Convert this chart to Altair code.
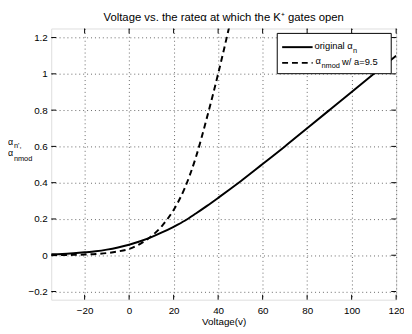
import altair as alt
import pandas as pd

# ---- data ----
v_orig = [-35, -30, -25, -20, -15, -10, -5, 0, 5, 10, 15, 20, 25, 30, 35, 40,
          45, 50, 60, 70, 80, 90, 100, 110, 120]
a_orig = [0.005, 0.007, 0.011, 0.016, 0.022, 0.031, 0.043, 0.058, 0.077, 0.10,
          0.127, 0.157, 0.19, 0.23, 0.272, 0.316, 0.361, 0.407, 0.503, 0.60,
          0.70, 0.80, 0.90, 1.00, 1.10]
v_mod = [-35, -30, -25, -20, -15, -10, -5, 0, 5, 10, 15, 20, 25, 30, 35, 40, 45, 50]
a_mod = [0.0005, 0.001, 0.002, 0.004, 0.007, 0.012, 0.021, 0.035, 0.063, 0.105,
         0.165, 0.25, 0.37, 0.54, 0.76, 1.00, 1.26, 1.53]
x_ticks = [-20, 0, 20, 40, 60, 80, 100, 120]
y_ticks = [-0.2, 0, 0.2, 0.4, 0.6, 0.8, 1.0, 1.2]

W, H = 351, 276
FONT = "Liberation Sans"

xs = alt.Scale(domain=[-35, 120], nice=False, zero=False)
ys = alt.Scale(domain=[-0.245, 1.25], nice=False, zero=False)

df_o = pd.DataFrame({"v": v_orig, "a": a_orig})
df_m = pd.DataFrame({"v": v_mod, "a": a_mod})
df_xt = pd.DataFrame({"t": x_ticks})
df_yt = pd.DataFrame({"t": y_ticks})

xaxis = alt.Axis(values=x_ticks, grid=True, gridDash=[1, 3], gridColor="#666",
                 ticks=False, domain=False, labelFont=FONT, labelFontSize=10,
                 labelColor="black", labelPadding=6, labelOverlap=False,
                 labelFlush=False, title="Voltage(v)",
                 titleFont=FONT, titleFontSize=10, titleFontWeight="normal",
                 titleColor="black", titlePadding=1)
yaxis = alt.Axis(values=y_ticks, grid=True, gridDash=[1, 3], gridColor="#666",
                 ticks=False, domain=False, labelFont=FONT, labelFontSize=10,
                 labelColor="black", labelPadding=4, labelOverlap=False,
                 labelFlush=False, title=None,
                 labelExpr="datum.value == 0 ? '0' : (datum.value == 1 ? '1' : format(datum.value, '.1f'))")

def X(f):
    return alt.X(f, scale=xs, axis=xaxis)

def Y(f):
    return alt.Y(f, scale=ys, axis=yaxis)

line_o = alt.Chart(df_o).mark_line(color="black", strokeWidth=2, clip=True,
                                   interpolate="monotone").encode(
    x=X("v:Q"), y=Y("a:Q"))
line_m = alt.Chart(df_m).mark_line(color="black", strokeWidth=2, strokeDash=[6, 4],
                                   clip=True, interpolate="monotone").encode(
    x=X("v:Q"), y=Y("a:Q"))

# inward ticks
xt_b = alt.Chart(df_xt).mark_rule(color="black", strokeWidth=1).encode(
    x=X("t:Q"), y=alt.value(H), y2=alt.value(H - 5))
xt_t = alt.Chart(df_xt).mark_rule(color="black", strokeWidth=1).encode(
    x=X("t:Q"), y=alt.value(0), y2=alt.value(5))
yt_l = alt.Chart(df_yt).mark_rule(color="black", strokeWidth=1).encode(
    y=Y("t:Q"), x=alt.value(0), x2=alt.value(5))
yt_r = alt.Chart(df_yt).mark_rule(color="black", strokeWidth=1).encode(
    y=Y("t:Q"), x=alt.value(W - 5), x2=alt.value(W))

one = pd.DataFrame({"k": [0]})

def txt(s, x, y, size=10, align="left"):
    return alt.Chart(one).mark_text(text=s, font=FONT, fontSize=size, align=align,
                                    baseline="middle", color="black").encode(
        x=alt.value(x), y=alt.value(y))

# legend box
leg_box = alt.Chart(one).mark_rect(fill="white", stroke="black", strokeWidth=1).encode(
    x=alt.value(230), x2=alt.value(346), y=alt.value(5), y2=alt.value(46))
leg_l1 = alt.Chart(one).mark_rule(color="black", strokeWidth=2).encode(
    x=alt.value(235), x2=alt.value(266), y=alt.value(19))
leg_l2 = alt.Chart(one).mark_rule(color="black", strokeWidth=2, strokeDash=[6, 4]).encode(
    x=alt.value(235), x2=alt.value(266), y=alt.value(35))
leg_t1 = txt("original α", 268, 18, 9.5)
leg_s1 = txt("n", 307, 23, 7.5)
leg_t2 = txt("α", 269, 33, 9.5)
leg_s2 = txt("nmod", 275, 38, 7.5)
leg_t3 = txt("w/ a=9.5", 296, 34, 9.5)

# y-axis label
yl1 = txt("α", -44, 116, 9)
yl1s = txt("n',", -38, 120, 7.5)
yl2 = txt("α", -44, 127, 9)
yl2s = txt("nmod", -38, 133, 7.5)

chart = alt.layer(
    line_o, line_m, xt_b, xt_t, yt_l, yt_r,
    leg_box, leg_l1, leg_l2, leg_t1, leg_s1, leg_t2, leg_s2, leg_t3,
    yl1, yl1s, yl2, yl2s,
).properties(
    width=W, height=H,
    title=alt.Title("Voltage vs. the rateα at which the K⁺ gates open",
                    font=FONT, fontSize=11.5, fontWeight="normal", color="black",
                    anchor="middle", offset=5),
    autosize=alt.AutoSizeParams(type="none"),
    padding={"left": 44, "top": 18, "right": 8, "bottom": 28},
).configure_view(stroke="black", strokeWidth=1.5).configure_axis(
    labelOverlap=False
).configure(background="white")

chart.save("out.html", embed_options={"renderer": "svg", "actions": False})
